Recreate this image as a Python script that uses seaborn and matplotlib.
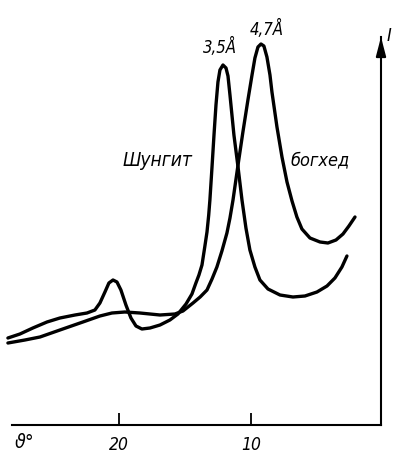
import matplotlib
matplotlib.use("Agg")
import matplotlib.pyplot as plt
import seaborn as sns

# Diffraction angle theta (degrees) and scattered intensity (arbitrary units)
shungite_theta = [28.41, 27.50, 26.52, 25.45, 24.47, 23.33, 22.42, 21.82, 21.44, 21.06,
                  20.76, 20.45, 20.15, 19.85, 19.47, 19.09, 18.71, 18.26, 17.65, 16.89,
                  16.14, 15.53, 14.92, 14.47, 14.17, 13.94, 13.71, 13.50, 13.33, 13.20,
                  13.11, 12.95, 12.80, 12.65, 12.50, 12.35, 12.12, 11.89, 11.74, 11.59,
                  11.29, 10.98, 10.68, 10.38, 10.08, 9.70, 9.32, 8.71, 7.80, 6.82,
                  5.91, 5.00, 4.24, 3.64, 3.11, 2.73]
shungite_intensity = [87, 91, 97, 103, 107, 110, 112, 115, 122, 133,
                      142, 145, 143, 135, 120, 107, 99, 96, 97, 100,
                      105, 111, 121, 131, 142, 150, 160, 178, 193, 210,
                      225, 258, 290, 320, 343, 355, 360, 357, 349, 330,
                      290, 258, 225, 197, 175, 158, 145, 136, 130, 128,
                      129, 133, 139, 147, 158, 169]

boghead_theta = [28.41, 27.12, 25.98, 24.47, 22.73, 21.44, 20.53, 19.55, 18.41, 16.89,
                 15.76, 15.15, 14.39, 13.85, 13.33, 12.95, 12.58, 12.20, 11.82, 11.59,
                 11.36, 10.98, 10.61, 10.23, 9.92, 9.70, 9.47, 9.24, 9.02, 8.79,
                 8.56, 8.41, 8.03, 7.65, 7.27, 6.89, 6.52, 6.14, 5.53, 4.77,
                 4.17, 3.56, 3.03, 2.58, 2.12]
boghead_intensity = [82, 85, 88, 95, 103, 109, 112, 113, 112, 110,
                     111, 114, 122, 128, 135, 146, 158, 174, 192, 207,
                     225, 260, 293, 325, 350, 367, 378, 381, 379, 368,
                     350, 333, 298, 268, 243, 224, 208, 196, 187, 183,
                     182, 185, 191, 199, 208]

sample_names = ["Шунгит", "богхед"]
peak_labels = ["3,5Å", "4,7Å"]
peak_theta = [12.12, 9.24]
peak_intensity = [360, 381]
tick_values = [20, 10]
tick_labels = ["20", "10"]

sns.set_style("white")
plt.rcParams["font.family"] = ["DejaVu Sans"]
plt.rcParams["text.color"] = "black"
label_font = dict(style="italic", stretch="condensed", color="black")

fig = plt.figure(figsize=(4.0, 4.53), dpi=100)
ax = fig.add_axes([12 / 400, 28 / 453, 369 / 400, 388 / 453])

curve_style = dict(color="black", lw=2.4, estimator=None, sort=False, ax=ax,
                   clip_on=False, solid_joinstyle="round", solid_capstyle="round")
sns.lineplot(x=shungite_theta, y=shungite_intensity, **curve_style)
sns.lineplot(x=boghead_theta, y=boghead_intensity, **curve_style)

# angle grows to the left, as on the diffractometer chart
ax.set_xlim(28.1, 0.15)
ax.set_ylim(0, 388)
ax.set_xlabel("")
ax.set_ylabel("")

for side in ("top", "left"):
    ax.spines[side].set_visible(False)
for side in ("bottom", "right"):
    ax.spines[side].set_color("black")
    ax.spines[side].set_linewidth(1.5)

ax.set_yticks([])
ax.set_xticks(tick_values)
ax.set_xticklabels(tick_labels, fontsize=12.5, **label_font)
ax.tick_params(axis="x", direction="in", length=8.6, width=1.3, pad=8,
               colors="black", bottom=True)

# arrow head on the intensity axis
ax.annotate("", xy=(1, 1.0), xytext=(1, 0.95), xycoords="axes fraction",
            arrowprops=dict(arrowstyle="-|>,head_length=1.15,head_width=0.3",
                            lw=1.5, color="black", mutation_scale=10,
                            shrinkA=0, shrinkB=0))

# peak annotations
for lab, t, i, dx, dy in zip(peak_labels, peak_theta, peak_intensity, [-2, 4], [8.5, 6.5]):
    ax.annotate(lab, xy=(t, i), xytext=(dx, dy), textcoords="offset points",
                ha="center", va="baseline", fontsize=12, annotation_clip=False,
                **label_font)

# curve names
ax.text(17.05, 265, sample_names[0], ha="center", va="center", fontsize=13.8, **label_font)
ax.text(4.77, 265, sample_names[1], ha="center", va="center", fontsize=13, **label_font)

fig.text(25 / 400, 1 - 442 / 453, "ϑ°", ha="center", va="center", fontsize=14, **label_font)
fig.text(389 / 400, 1 - 36 / 453, "I", ha="center", va="center", fontsize=13, **label_font)

fig.savefig("out.png", dpi=100)
